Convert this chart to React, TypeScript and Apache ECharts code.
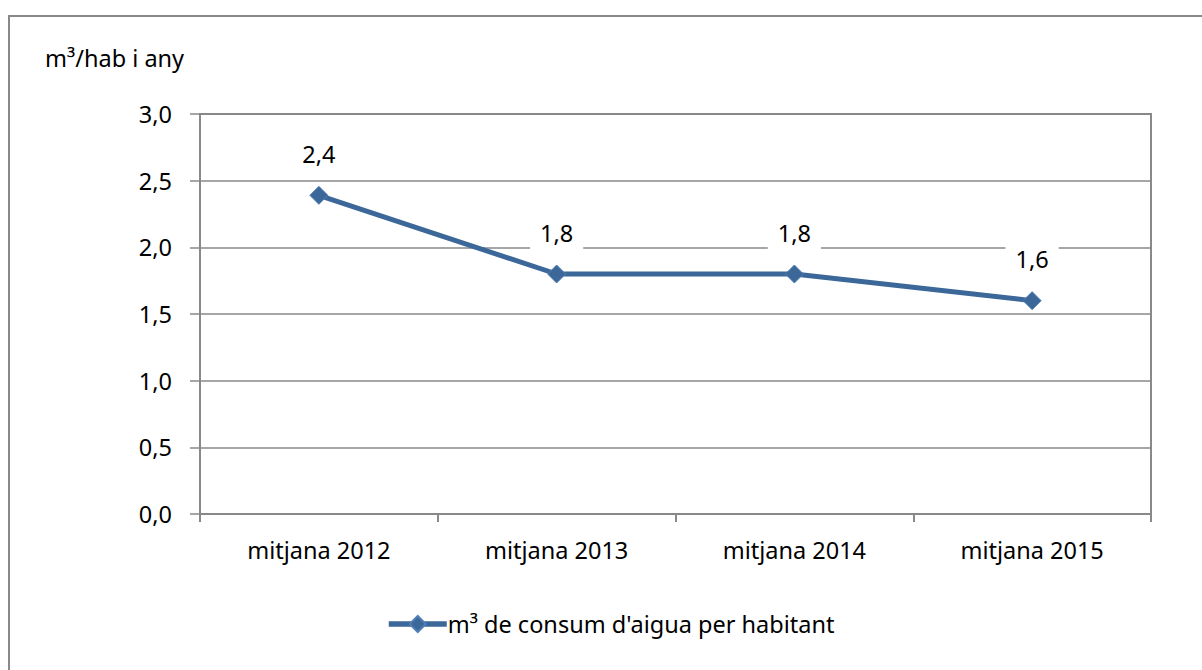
import React, { useEffect, useRef } from "react";
import * as echarts from "echarts";

const categories = ["mitjana 2012", "mitjana 2013", "mitjana 2014", "mitjana 2015"];
const consumValues = [2.39, 1.8, 1.8, 1.6];
const seriesName = "m³ de consum d'aigua per habitant";
const unitLabel = "m³/hab i any";

const FONT = "'Noto Sans', sans-serif";
const GRAY = "#898989";
const BLUE = "#3B6799";
const FS = 23.5;

const fmt = (v: number) => v.toFixed(1).replace(".", ",");

export default function App() {
  const ref = useRef<HTMLDivElement>(null);
  useEffect(() => {
    if (!ref.current) return;
    const chart = echarts.init(ref.current, undefined, { renderer: "svg" });
    chart.setOption({
      animation: false,
      backgroundColor: "#ffffff",
      textStyle: { fontFamily: FONT },
      graphic: [
        {
          type: "rect",
          shape: { x: 9, y: 16, width: 1220, height: 700 },
          style: { fill: "none", stroke: GRAY, lineWidth: 2 },
          silent: true,
        },
        {
          type: "text",
          left: 45,
          top: 46,
          style: { text: unitLabel, font: `${FS}px ${FONT}`, fill: "#000" },
        },
      ],
      grid: {
        left: 200,
        right: 51,
        top: 114,
        bottom: 156,
        show: true,
        borderColor: GRAY,
        borderWidth: 2,
        backgroundColor: "transparent",
      },
      legend: {
        bottom: 29,
        left: 381,
        itemWidth: 58,
        itemHeight: 20,
        itemGap: 10,
        data: [seriesName],
        lineStyle: { width: 5.5 },
        textStyle: { fontFamily: FONT, fontSize: FS, color: "#000", padding: [0, 0, 0, -4] },
      },
      xAxis: {
        type: "category",
        data: categories,
        boundaryGap: true,
        axisLine: { show: true, lineStyle: { color: GRAY, width: 2 } },
        axisTick: { show: true, length: 8, lineStyle: { color: GRAY, width: 2 } },
        axisLabel: { fontFamily: FONT, fontSize: FS, color: "#000", margin: 24 },
        splitLine: { show: false },
      },
      yAxis: {
        type: "value",
        min: 0,
        max: 3,
        interval: 0.5,
        axisLine: { show: true, lineStyle: { color: GRAY, width: 2 } },
        axisTick: { show: true, length: 10, lineStyle: { color: GRAY, width: 1.5 } },
        axisLabel: {
          fontFamily: FONT,
          fontSize: FS,
          color: "#000",
          margin: 28,
          formatter: (v: number) => fmt(v),
        },
        splitLine: { show: true, lineStyle: { color: GRAY, width: 1.5 } },
      },
      series: [
        {
          name: seriesName,
          type: "line",
          data: consumValues,
          symbol: "diamond",
          symbolSize: 18,
          lineStyle: { color: BLUE, width: 5 },
          itemStyle: { color: BLUE, borderColor: "#4F7DB5", borderWidth: 1 },
          label: {
            show: true,
            position: "top",
            distance: 14,
            formatter: (p: any) => fmt(p.value),
            fontFamily: FONT,
            fontSize: FS,
            color: "#000",
            backgroundColor: "#ffffff",
            padding: [6, 10, 6, 10],
          },
        },
      ],
    });
    return () => chart.dispose();
  }, []);
  return (
    <div
      ref={ref}
      style={{ position: "fixed", left: 0, top: 0, width: 1202, height: 670 }}
    />
  );
}
